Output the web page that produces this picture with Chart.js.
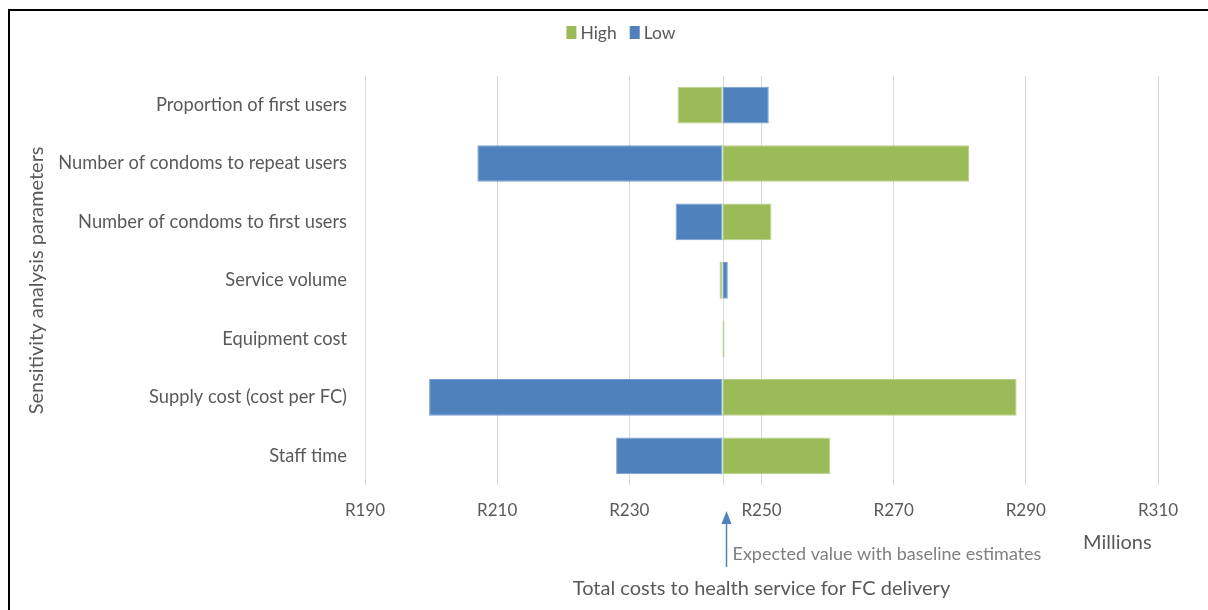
<!DOCTYPE html>
<html><head><meta charset="utf-8">
<script src="https://cdn.jsdelivr.net/npm/chart.js@4"></script>
<style>
html,body{margin:0;padding:0;background:#fff;overflow:hidden;width:1208px;height:610px;}
#frame{position:absolute;left:8px;top:9px;width:1240px;height:640px;border-left:2px solid #000;border-top:2px solid #000;}
#wrap{position:absolute;left:10px;top:11px;width:1222px;height:599px;}
</style></head><body>
<div id="frame"></div>
<div id="wrap"><canvas id="c"></canvas></div>
<script>
// ---- data ----
const categories = [
  'Proportion of first users',
  'Number of condoms to repeat users',
  'Number of condoms to first users',
  'Service volume',
  'Equipment cost',
  'Supply cost (cost per FC)',
  'Staff time'
];
const baseline = 244.1;               // expected value with baseline estimates (R millions)
const highValues = [237.3, 281.4, 251.5, 243.65, 244.4, 288.6, 260.4];
const lowValues  = [251.1, 207.0, 237.0, 244.9, 244.1, 199.7, 228.0];
const xMin = 190, xMax = 310, xStep = 20;
const seriesNames = ['High', 'Low'];
const seriesColors = ['#9BBB59', '#4F81BD'];
const seriesBorders = ['#B9D08C', '#7A9FCF'];
const xTitle = 'Total costs to health service for FC delivery';
const yTitle = 'Sensitivity analysis parameters';
const unitLabel = 'Millions';
const arrowLabel = 'Expected value with baseline estimates';

const FONT = 'Lato';
const TXT = '#595959';

const highData = highValues.map(v => [baseline, v]);
const lowData = lowValues.map(v => [baseline, v]);

const baselinePlugin = {
  id: 'baselineLine',
  beforeDatasetsDraw(chart) {
    const {ctx, chartArea, scales} = chart;
    const x = Math.round(scales.x.getPixelForValue(baseline)) + 0.5;
    ctx.save();
    ctx.strokeStyle = '#D9D9D9';
    ctx.lineWidth = 1;
    ctx.beginPath();
    ctx.moveTo(x, chartArea.top);
    ctx.lineTo(x, chartArea.bottom);
    ctx.stroke();
    ctx.restore();
  }
};

const legendPlugin = {
  id: 'customLegend',
  afterDraw(chart) {
    const {ctx} = chart;
    ctx.save();
    ctx.font = '17.5px ' + FONT;
    ctx.textBaseline = 'middle';
    const box = 10, gap = 4, spacing = 13;
    const items = chart.data.datasets.map(d => ({label: d.label, color: d.backgroundColor, w: ctx.measureText(d.label).width}));
    let total = 0;
    items.forEach((it, i) => { total += box + gap + it.w + (i < items.length - 1 ? spacing : 0); });
    let x = chart.width / 2 - total / 2;
    const cy = 21;
    items.forEach(it => {
      ctx.fillStyle = it.color;
      ctx.fillRect(x, cy - 6, box, 13);
      x += box + gap;
      ctx.fillStyle = TXT;
      ctx.fillText(it.label, x, cy + 1);
      x += it.w + spacing;
    });
    ctx.restore();
  }
};

const annotationPlugin = {
  id: 'annot',
  afterDraw(chart) {
    const {ctx, scales} = chart;
    const ax = Math.round(scales.x.getPixelForValue(baseline)) + 3.5;
    ctx.save();
    ctx.strokeStyle = '#4F81BD';
    ctx.fillStyle = '#4F81BD';
    ctx.lineWidth = 1.5;
    ctx.beginPath();
    ctx.moveTo(ax, 511);
    ctx.lineTo(ax, 556);
    ctx.stroke();
    ctx.beginPath();
    ctx.moveTo(ax, 500);
    ctx.lineTo(ax - 5, 513);
    ctx.lineTo(ax + 5, 513);
    ctx.closePath();
    ctx.fill();
    ctx.font = '18px ' + FONT;
    ctx.textBaseline = 'middle';
    ctx.fillStyle = '#7F7F7F';
    ctx.fillText(arrowLabel, ax + 6, 543);
    ctx.font = '20px ' + FONT;
    ctx.fillStyle = TXT;
    ctx.fillText(unitLabel, 1073, 532);
    ctx.restore();
  }
};

new Chart(document.getElementById('c'), {
  type: 'bar',
  data: {
    labels: categories,
    datasets: [
      {label: seriesNames[0], data: highData, backgroundColor: seriesColors[0], borderColor: seriesBorders[0], borderWidth: 1, borderSkipped: false, grouped: false},
      {label: seriesNames[1], data: lowData, backgroundColor: seriesColors[1], borderColor: seriesBorders[1], borderWidth: 1, borderSkipped: false, grouped: false}
    ]
  },
  options: {
    indexAxis: 'y',
    responsive: true,
    maintainAspectRatio: false,
    animation: false,
    layout: {padding: {top: 64.8, right: 74, bottom: 0, left: 0}},
    datasets: {bar: {barPercentage: 0.628, categoryPercentage: 1}},
    plugins: {
      legend: {display: false},
      tooltip: {enabled: false}
    },
    scales: {
      x: {
        type: 'linear',
        min: xMin, max: xMax,
        ticks: {stepSize: xStep, callback: v => 'R' + v, color: TXT, font: {family: FONT, size: 17}, padding: 15, maxRotation: 0},
        grid: {color: '#D9D9D9', drawTicks: false},
        border: {display: false},
        title: {display: true, text: xTitle, color: TXT, font: {family: FONT, size: 20}, padding: {top: 0, bottom: 9}},
        afterFit(s) { s.height = 125; }
      },
      y: {
        type: 'category',
        offset: true,
        ticks: {color: TXT, font: {family: FONT, size: 18.3}, padding: 10},
        grid: {display: false},
        border: {display: false},
        title: {display: true, text: yTitle, color: TXT, font: {family: FONT, size: 20}, padding: {top: 15, bottom: 0}},
        afterFit(s) { s.width = 355; }
      }
    }
  },
  plugins: [baselinePlugin, legendPlugin, annotationPlugin]
});
</script>
</body></html>
